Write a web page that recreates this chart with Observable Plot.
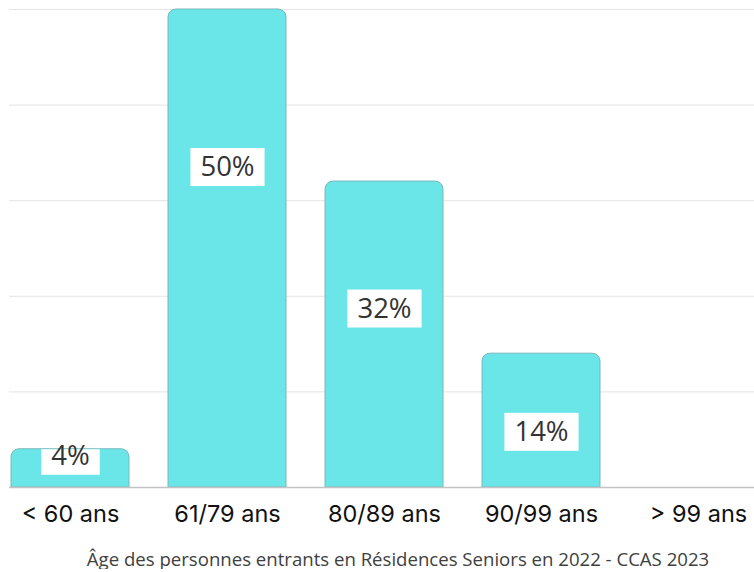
<!DOCTYPE html>
<html>
<head>
<meta charset="utf-8">
<script src="https://cdn.jsdelivr.net/npm/d3@7"></script>
<script src="https://cdn.jsdelivr.net/npm/@observablehq/plot@0.6"></script>
<style>
  html, body { margin: 0; padding: 0; background: #fff; }
  #wrap { width: 754px; }
  #caption { font-family: "Open Sans", sans-serif; font-size: 18.6px; line-height: 20px; color: #404040;
             text-align: center; padding-top: 9px; padding-left: 42px; box-sizing: border-box; width: 754px; }
  svg g[aria-label="x-axis tick label"] text { font-family: Inter, sans-serif; font-size: 23.5px; font-weight: 400; }
</style>
</head>
<body>
<div id="wrap"></div>
<script>
const categories = ["< 60 ans", "61/79 ans", "80/89 ans", "90/99 ans", "> 99 ans"];
const shares = [4, 50, 32, 14, 0];
const labelAt = [3.3, 33.5, 18.7, 5.8, 0];
const gridTicks = [10, 20, 30, 40, 50];
const captionText = "Âge des personnes entrants en Résidences Seniors en 2022 - CCAS 2023";

const data = categories.map((c, i) => ({cat: c, v: shares[i], ly: labelAt[i], label: shares[i] + "%"}));
const labelled = data.filter(d => d.v > 0);

const chart = Plot.plot({
  width: 754,
  height: 540,
  marginLeft: 9,
  marginRight: 0,
  marginTop: 9,
  marginBottom: 53,
  style: {fontFamily: "Inter, sans-serif", fontSize: "23.5px", color: "#111", background: "#fff"},
  x: {domain: categories, range: [9, 760], paddingInner: 0.2468, paddingOuter: 0, tickSize: 0, tickPadding: 18, label: null},
  y: {domain: [0, 50], axis: null},
  marks: [
    Plot.ruleY(gridTicks, {stroke: "#e4e4e4", strokeWidth: 1}),
    Plot.barY(data.filter(d => d.v > 0), {x: "cat", y: "v", fill: "#6ae6e8", stroke: "#78b8bc", strokeWidth: 1, ry1: 8, rx1y1: 8, rx2y1: 8}),
    Plot.ruleY([0], {stroke: "#c4c4c4", strokeWidth: 1.5}),
    Plot.text(labelled, {x: "cat", y: "ly", text: "label", fontSize: 27.5, fontFamily: "Open Sans, sans-serif", fill: "#333"})
  ]
});

document.getElementById("wrap").appendChild(chart);
const cap = document.createElement("div");
cap.id = "caption";
cap.textContent = captionText;
document.getElementById("wrap").appendChild(cap);

// white label boxes behind the value labels
const yScale = chart.scale("y");
const textGroup = [...chart.querySelectorAll('g[aria-label="text"]')].pop();
if (textGroup) {
  const boxes = document.createElementNS("http://www.w3.org/2000/svg", "g");
  textGroup.parentNode.insertBefore(boxes, textGroup);
  textGroup.querySelectorAll("text").forEach((t, i) => {
    const b = t.getBBox();
    const ctm = t.getCTM();
    const x0 = b.x + (ctm ? ctm.e : 0);
    const y0 = b.y + (ctm ? ctm.f : 0);
    const barTop = yScale.apply(labelled[i].v);
    const top = Math.max(y0 + 1, barTop + 0.5);
    const bottom = y0 + b.height + 2;
    const r = document.createElementNS("http://www.w3.org/2000/svg", "rect");
    r.setAttribute("x", x0 - 10);
    r.setAttribute("y", top);
    r.setAttribute("width", b.width + 20);
    r.setAttribute("height", bottom - top);
    r.setAttribute("fill", "#fff");
    boxes.appendChild(r);
  });
}
</script>
</body>
</html>
